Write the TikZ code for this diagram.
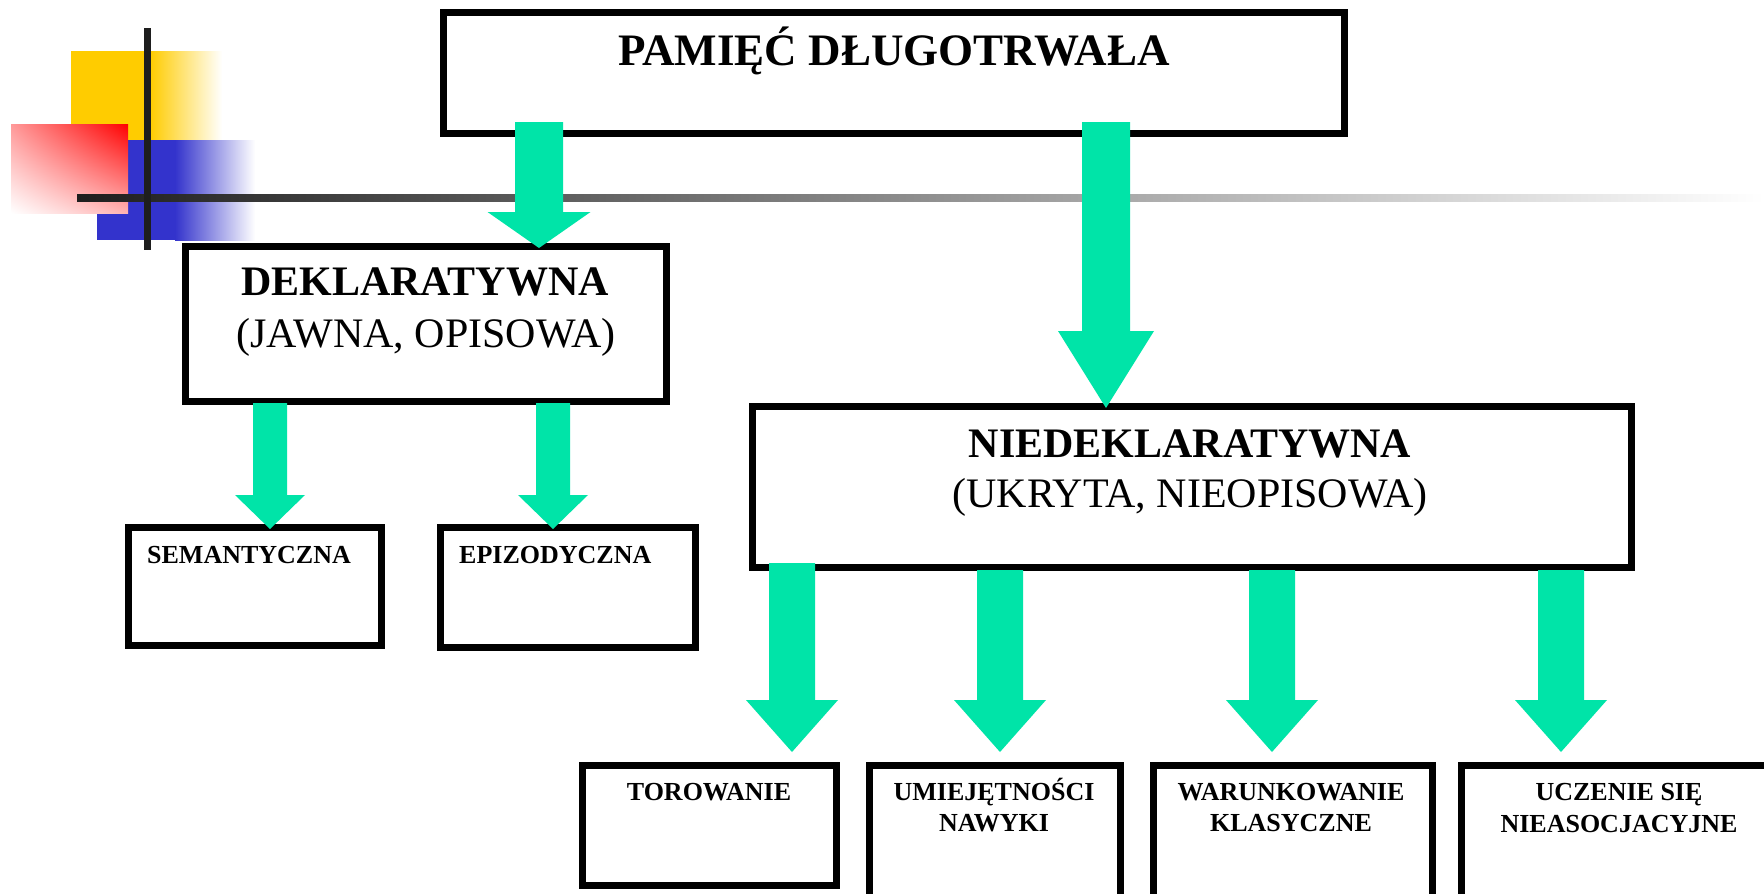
\documentclass[tikz,border=0pt]{standalone}
\usepackage{fontspec}
\setmainfont{Liberation Serif}
\usetikzlibrary{calc,shadings}

\definecolor{arrowgreen}{RGB}{0,228,168}
\definecolor{decoyellow}{RGB}{255,204,0}
\definecolor{decoblue}{RGB}{51,51,204}
\definecolor{decored}{RGB}{255,0,0}
\definecolor{decoline}{RGB}{30,30,30}

% #1 from, #2 to, #3 x, #4 start drop, #5 tip drop, #6 half shaft, #7 half head, #8 head length
\newcommand{\fatarrow}[8]{%
	\fill[arrowgreen] ($(#1.south -| #3,0)+(-#6,#4)$) -- ($(#2.north -| #3,0)+(-#6,#5-#8)$)
		-- ($(#2.north -| #3,0)+(-#7,#5-#8)$) -- ($(#2.north -| #3,0)+(0,#5)$)
		-- ($(#2.north -| #3,0)+(#7,#5-#8)$) -- ($(#2.north -| #3,0)+(#6,#5-#8)$)
		-- ($(#1.south -| #3,0)+(#6,#4)$) -- cycle;}

\begin{document}
\begin{tikzpicture}[x=1pt,y=-1pt,
	box/.style={draw,line width=7pt,rectangle,outer sep=0pt,inner sep=0pt,anchor=north west},
	bigbold/.style={anchor=base,inner sep=0pt,font=\fontsize{42}{50}\selectfont\bfseries},
	bigplain/.style={anchor=base,inner sep=0pt,font=\fontsize{42}{50}\selectfont},
	smallbold/.style={anchor=base,inner sep=0pt,font=\fontsize{26}{31}\selectfont\bfseries}]
\useasboundingbox (0,0) rectangle (1764,894);
\fill[white] (0,0) rectangle (1764,894);
\clip (0,0) rectangle (1764,894);

\fill[decoyellow] (71,51) rectangle (150,140);
\shade[left color=decoyellow,right color=white] (150,51) rectangle (222,140);
\fill[decoblue] (97,140) rectangle (175,240);
\shade[left color=decoblue,right color=white] (175,140) rectangle (255,240);
\shade[upper right=decored,upper left=decored!40,lower right=decored!30,lower left=white] (11,124) rectangle (128,213);
\shade[left color=decoline,middle color=black!25,right color=white] (77,194) rectangle (1764,201);
\fill[decoline] (143.5,28) rectangle (150.5,250);

\node (top) at (443,12) [box,minimum width=901pt,minimum height=121pt] {};
\node (dek) at (185,246) [box,minimum width=481pt,minimum height=155pt] {};
\node (niedek) at (752,406) [box,minimum width=879pt,minimum height=161pt] {};
\node (sem) at (128,527) [box,minimum width=253pt,minimum height=118pt] {};
\node (epi) at (440,527) [box,minimum width=255pt,minimum height=120pt] {};
\node (tor) at (582,765) [box,minimum width=254pt,minimum height=120pt] {};
\node (umi) at (869,765) [box,minimum width=251pt,minimum height=140pt] {};
\node (war) at (1153,765) [box,minimum width=279pt,minimum height=140pt] {};
\node (ucz) at (1461,765) [box,minimum width=320pt,minimum height=140pt] {};

\node (toptxt) at (894,65) [bigbold,font=\fontsize{45}{54}\selectfont\bfseries] {PAMIĘĆ DŁUGOTRWAŁA};
\node (dektxt) at (425,295) [bigbold] {DEKLARATYWNA};
\node (dekalt) at (426,347) [bigplain] {(JAWNA, OPISOWA)};
\node (nietxt) at (1190,457) [bigbold] {NIEDEKLARATYWNA};
\node (niealt) at (1190,507) [bigplain] {(UKRYTA, NIEOPISOWA)};
\node (semtxt) at (147,563) [smallbold,anchor=base west] {SEMANTYCZNA};
\node (epitxt) at (459,563) [smallbold,anchor=base west] {EPIZODYCZNA};
\node (tortxt) at (709,800) [smallbold] {TOROWANIE};
\node (umitxt) at (994,800) [smallbold] {UMIEJĘTNOŚCI};
\node (umialt) at (994,831) [smallbold] {NAWYKI};
\node (wartxt) at (1291,800) [smallbold] {WARUNKOWANIE};
\node (waralt) at (1291,831) [smallbold] {KLASYCZNE};
\node (ucztxt) at (1619,800) [smallbold] {UCZENIE SIĘ};
\node (uczalt) at (1619,832) [smallbold] {NIEASOCJACYJNE};

\fatarrow{top}{dek}{539}{-11}{2}{24}{51.5}{36}
\fatarrow{top}{niedek}{1106}{-11}{2}{24}{48}{77}
\foreach \ax/\tgt in {270/sem,553/epi} {
	\fatarrow{dek}{\tgt}{\ax}{2}{2}{17}{35}{34}
	}
\foreach \ax/\tgt/\dr in {792/tor/-4,1000/umi/3,1272/war/3,1561/ucz/3} {
	\fatarrow{niedek}{\tgt}{\ax}{\dr}{-13}{23}{46}{52}
	}
\end{tikzpicture}
\end{document}
